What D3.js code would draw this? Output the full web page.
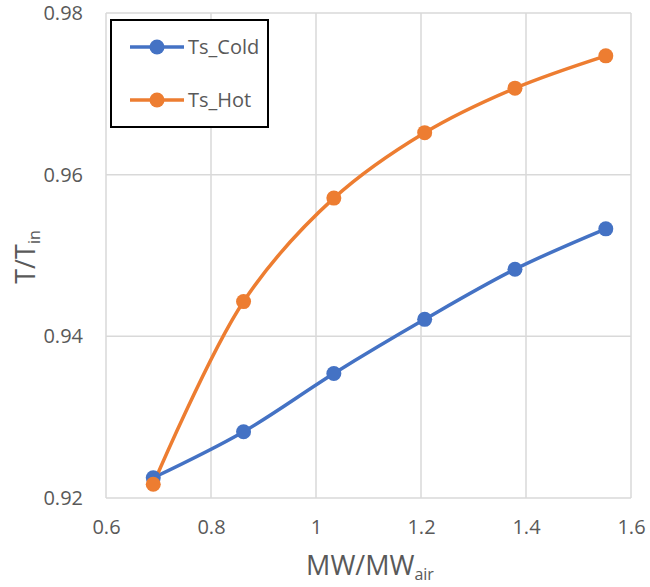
<!DOCTYPE html>
<html>
<head>
<meta charset="utf-8">
<script src="https://cdn.jsdelivr.net/npm/d3@7"></script>
<style>
  html, body { margin: 0; padding: 0; background: #fff; }
  svg { display: block; }
  text { font-family: "Open Sans", sans-serif; fill: #595959; }
</style>
</head>
<body>
<svg id="chart" width="650" height="587"></svg>
<script>
// ---- data ----
const mwRatio = [0.690, 0.862, 1.034, 1.207, 1.379, 1.552];
const tsCold  = [0.9225, 0.9282, 0.9354, 0.9421, 0.9483, 0.9533];
const tsHot   = [0.9217, 0.9443, 0.9571, 0.9652, 0.9707, 0.9747];
const seriesNames = ["Ts_Cold", "Ts_Hot"];
const seriesColors = ["#4472C4", "#ED7D31"];
const xTicks = [0.6, 0.8, 1.0, 1.2, 1.4, 1.6];
const yTicks = [0.92, 0.94, 0.96, 0.98];

const svg = d3.select("#chart");
const W = 650, H = 587;
const m = { left: 106, right: 19, top: 13, bottom: 89 };

const x = d3.scaleLinear().domain([0.6, 1.6]).range([m.left, W - m.right]);
const y = d3.scaleLinear().domain([0.92, 0.98]).range([H - m.bottom, m.top]);

// gridlines
const grid = svg.append("g");
grid.selectAll("line.v").data(xTicks).join("line")
  .attr("x1", d => x(d)).attr("x2", d => x(d))
  .attr("y1", y(0.92)).attr("y2", y(0.98))
  .attr("stroke", "#d9d9d9").attr("stroke-width", 1.5);
grid.selectAll("line.h").data(yTicks).join("line")
  .attr("x1", x(0.6)).attr("x2", x(1.6))
  .attr("y1", d => y(d)).attr("y2", d => y(d))
  .attr("stroke", "#d9d9d9").attr("stroke-width", 1.5);

// axes (tick labels only)
const xAxis = d3.axisBottom(x).tickValues(xTicks).tickSize(0).tickPadding(22)
  .tickFormat(d => d3.format("~g")(d));
const gx = svg.append("g").attr("transform", `translate(0,${y(0.92)})`).call(xAxis);
gx.select(".domain").remove();
gx.selectAll("text").attr("font-size", 20).attr("font-family", "Open Sans").attr("fill", "#595959");

const yAxis = d3.axisLeft(y).tickValues(yTicks).tickSize(0).tickPadding(23)
  .tickFormat(d3.format(".2f"));
const gy = svg.append("g").attr("transform", `translate(${x(0.6)},0)`).call(yAxis);
gy.select(".domain").remove();
gy.selectAll("text").attr("font-size", 20).attr("font-family", "Open Sans").attr("fill", "#595959");

// series
const seriesData = [tsCold, tsHot];
const line = d3.line().x(d => x(d[0])).y(d => y(d[1])).curve(d3.curveCatmullRom.alpha(0.5));
seriesData.forEach((vals, i) => {
  const pts = mwRatio.map((v, j) => [v, vals[j]]);
  svg.append("path").datum(pts)
    .attr("d", line).attr("fill", "none")
    .attr("stroke", seriesColors[i]).attr("stroke-width", 3.5)
    .attr("stroke-linejoin", "round");
});
seriesData.forEach((vals, i) => {
  const pts = mwRatio.map((v, j) => [v, vals[j]]);
  svg.append("g").selectAll("circle").data(pts).join("circle")
    .attr("cx", d => x(d[0])).attr("cy", d => y(d[1])).attr("r", 7.5)
    .attr("fill", seriesColors[i]);
});

// legend
const lg = svg.append("g");
lg.append("rect").attr("x", 111).attr("y", 20).attr("width", 157).attr("height", 107)
  .attr("fill", "#fff").attr("stroke", "#000").attr("stroke-width", 2);
seriesNames.forEach((name, i) => {
  const cy = 47 + i * 53;
  lg.append("line").attr("x1", 130).attr("x2", 184).attr("y1", cy).attr("y2", cy)
    .attr("stroke", seriesColors[i]).attr("stroke-width", 3.5);
  lg.append("circle").attr("cx", 157).attr("cy", cy).attr("r", 7.5).attr("fill", seriesColors[i]);
  lg.append("text").attr("x", 188).attr("y", cy + 7).attr("font-size", 20).text(name);
});

// axis titles
const xt = svg.append("text").attr("x", 370).attr("y", 575)
  .attr("text-anchor", "middle").attr("font-size", 27);
xt.append("tspan").text("MW/MW");
xt.append("tspan").attr("font-size", 16).attr("dy", 5).text("air");

const yt = svg.append("text")
  .attr("transform", "translate(35,257) rotate(-90)")
  .attr("text-anchor", "middle").attr("font-size", 27);
yt.append("tspan").text("T/T");
yt.append("tspan").attr("font-size", 16).attr("dy", 5).text("in");
</script>
</body>
</html>
